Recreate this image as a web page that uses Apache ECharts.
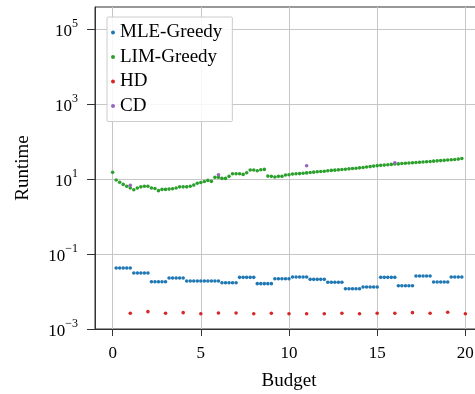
<!DOCTYPE html>
<html>
<head>
<meta charset="utf-8">
<script src="https://cdn.jsdelivr.net/npm/echarts@6/dist/echarts.min.js"></script>
<style>
  html, body { margin: 0; padding: 0; background: #fff; overflow: hidden; }
  /* the plot frame runs a little past the right edge of the window */
  #chart { width: 490px; height: 394px; }
</style>
</head>
<body>
<div id="chart"></div>
<script>
// Budget steps at which the greedy methods were timed
const budgetGrid = [
  0, 0.2, 0.4, 0.6, 0.8, 1, 1.2, 1.4, 1.6, 1.8,
  2, 2.2, 2.4, 2.6, 2.8, 3, 3.2, 3.4, 3.6, 3.8,
  4, 4.2, 4.4, 4.6, 4.8, 5, 5.2, 5.4, 5.6, 5.8,
  6, 6.2, 6.4, 6.6, 6.8, 7, 7.2, 7.4, 7.6, 7.8,
  8, 8.2, 8.4, 8.6, 8.8, 9, 9.2, 9.4, 9.6, 9.8,
  10, 10.2, 10.4, 10.6, 10.8, 11, 11.2, 11.4, 11.6, 11.8,
  12, 12.2, 12.4, 12.6, 12.8, 13, 13.2, 13.4, 13.6, 13.8,
  14, 14.2, 14.4, 14.6, 14.8, 15, 15.2, 15.4, 15.6, 15.8,
  16, 16.2, 16.4, 16.6, 16.8, 17, 17.2, 17.4, 17.6, 17.8,
  18, 18.2, 18.4, 18.6, 18.8, 19, 19.2, 19.4, 19.6, 19.8
];

// MLE-Greedy runtime, budgets 0.2 .. 19.8
const mleBudget = budgetGrid.slice(1);
const mleRuntime = [
  0.0424, 0.0424, 0.0424, 0.0424, 0.0424,
  0.0311, 0.0311, 0.0311, 0.0311, 0.0311,
  0.0183, 0.0183, 0.0183, 0.0183, 0.0183,
  0.0229, 0.0229, 0.0229, 0.0229, 0.0229,
  0.0191, 0.0191, 0.0191, 0.0191, 0.0191,
  0.0191, 0.0191, 0.0191, 0.0191, 0.0191,
  0.0171, 0.0171, 0.0171, 0.0171, 0.0171,
  0.0239, 0.0239, 0.0239, 0.0239, 0.0239,
  0.0162, 0.0162, 0.0162, 0.0162, 0.0162,
  0.0220, 0.0220, 0.0220, 0.0220, 0.0220,
  0.0244, 0.0244, 0.0244, 0.0244, 0.0244,
  0.0211, 0.0211, 0.0211, 0.0211, 0.0211,
  0.0176, 0.0176, 0.0176, 0.0176, 0.0176,
  0.0119, 0.0119, 0.0119, 0.0119, 0.0119,
  0.0132, 0.0132, 0.0132, 0.0132, 0.0132,
  0.0239, 0.0239, 0.0239, 0.0239, 0.0239,
  0.0143, 0.0143, 0.0143, 0.0143, 0.0143,
  0.0259, 0.0259, 0.0259, 0.0259, 0.0259,
  0.0179, 0.0179, 0.0179, 0.0179, 0.0179,
  0.0244, 0.0244, 0.0244, 0.0244
];

// LIM-Greedy runtime, budgets 0 .. 19.8
const limBudget = budgetGrid;
const limRuntime = [
  15.1, 9.4, 8.2, 7.2, 6.4, 5.8, 5.2, 5.8, 6.2, 6.4,
  6.4, 5.8, 5.6, 4.9, 5.3, 5.3, 5.4, 5.5, 5.75, 6.2,
  6.2, 6.2, 6.4, 6.9, 7.7, 8.1, 8.6, 9.2, 8.7, 11.1,
  11.1, 10.4, 10.4, 11.8, 13.8, 13.8, 13.8, 13.3, 14.7, 17.4,
  17.4, 16.7, 17.7, 18.1, 12.0, 11.8, 11.3, 11.8, 11.8, 12.8,
  13.0, 13.6, 13.8, 14.0, 14.3, 14.6, 14.9, 15.3, 15.6, 15.9,
  16.2, 16.6, 17.0, 17.3, 17.6, 18.0, 18.3, 18.7, 19.1, 19.5,
  19.9, 20.4, 20.9, 21.5, 22.2, 22.8, 23.2, 23.6, 24.1, 24.6,
  25.4, 25.4, 25.9, 26.3, 26.7, 27.2, 27.6, 28.0, 28.5, 29.0,
  29.5, 30.0, 30.6, 31.1, 31.6, 32.2, 32.8, 33.4, 34.1, 35.5
];

// HD runtime at integer budgets
const hdBudget = [1, 2, 3, 4, 5, 6, 7, 8, 9, 10, 11, 12, 13, 14, 15, 16, 17, 18, 19, 20];
const hdRuntime = [
  0.00262, 0.0029, 0.00262, 0.00273, 0.00256, 0.00267, 0.00267, 0.00256, 0.00262, 0.00256,
  0.00256, 0.00256, 0.00262, 0.00256, 0.00262, 0.00262, 0.00273, 0.00262, 0.0028, 0.00256
];

// CD runtime
const cdBudget = [1, 6, 11, 16];
const cdRuntime = [6.8, 13.0, 22.6, 27.2];

const seriesNames = ['MLE-Greedy', 'LIM-Greedy', 'HD', 'CD'];
const seriesColors = ['#1f77b4', '#2ca02c', '#d62728', '#9467bd'];

const xTickValues = [0, 5, 10, 15, 20];
const yTickValues = [0.001, 0.1, 10, 1000, 100000];

const FONT = '"Liberation Serif", "DejaVu Serif", serif';
const AXIS_COLOR = '#333333';
const GRID_COLOR = '#c6c6c6';

function pairs(xs, ys) {
  return ys.map((y, i) => [xs[i], y]);
}

function powerLabel(v) {
  const e = Math.round(Math.log10(v));
  return '{b|10}{s|' + String(e).replace('-', '\u2212') + '}';
}

function scatter(idx, xs, ys) {
  return {
    name: seriesNames[idx],
    type: 'scatter',
    data: pairs(xs, ys),
    symbol: 'circle',
    symbolSize: 3.6,
    itemStyle: { color: seriesColors[idx], opacity: 1 },
    emphasis: { disabled: true },
    silent: true
  };
}

const chart = echarts.init(document.getElementById('chart'), null, { renderer: 'canvas' });

chart.setOption({
  animation: false,
  backgroundColor: '#ffffff',
  grid: {
    left: 95, top: 7, width: 388, height: 322,
    outerBoundsMode: 'none',
    show: true, borderColor: AXIS_COLOR, borderWidth: 1,
    backgroundColor: 'transparent'
  },
  legend: {
    orient: 'vertical',
    left: 107, top: 17,
    padding: [6, 10, 6, 4],
    itemGap: 5.5,
    itemWidth: 4, itemHeight: 4,
    icon: 'circle',
    backgroundColor: 'rgba(255,255,255,0.85)',
    borderColor: '#cccccc', borderWidth: 1, borderRadius: 1,
    textStyle: { fontFamily: FONT, fontSize: 19, lineHeight: 19, color: '#000' },
    data: seriesNames
  },
  xAxis: {
    type: 'value',
    min: -1, max: 21,
    name: 'Budget',
    nameLocation: 'middle',
    nameGap: 43,
    nameTextStyle: { fontFamily: FONT, fontSize: 19, color: '#000' },
    axisLine: { show: true, onZero: false, lineStyle: { color: AXIS_COLOR, width: 1 } },
    axisTick: { show: true, inside: false, length: 7, customValues: xTickValues,
                lineStyle: { color: AXIS_COLOR, width: 1 } },
    axisLabel: { customValues: xTickValues, margin: 16, fontFamily: FONT, fontSize: 17, color: '#000' },
    splitLine: { show: true, lineStyle: { color: GRID_COLOR, width: 1 } }
  },
  yAxis: {
    type: 'log',
    logBase: 10,
    min: 0.001,
    max: Math.pow(10, 5.59),
    name: 'Runtime',
    nameLocation: 'middle',
    nameGap: 62,
    nameTextStyle: { fontFamily: FONT, fontSize: 19, color: '#000' },
    axisLine: { show: true, onZero: false, lineStyle: { color: AXIS_COLOR, width: 1 } },
    axisTick: { show: true, inside: false, length: 8, customValues: yTickValues,
                lineStyle: { color: AXIS_COLOR, width: 1 } },
    axisLabel: {
      customValues: yTickValues,
      margin: 17,
      formatter: powerLabel,
      rich: {
        b: { fontFamily: FONT, fontSize: 17, color: '#000', lineHeight: 22, verticalAlign: 'bottom' },
        s: { fontFamily: FONT, fontSize: 12, color: '#000', verticalAlign: 'top', lineHeight: 12 }
      }
    },
    splitLine: { show: true, lineStyle: { color: GRID_COLOR, width: 1 } }
  },
  series: [
    scatter(0, mleBudget, mleRuntime),
    scatter(1, limBudget, limRuntime),
    scatter(2, hdBudget, hdRuntime),
    scatter(3, cdBudget, cdRuntime)
  ]
});
</script>
</body>
</html>
